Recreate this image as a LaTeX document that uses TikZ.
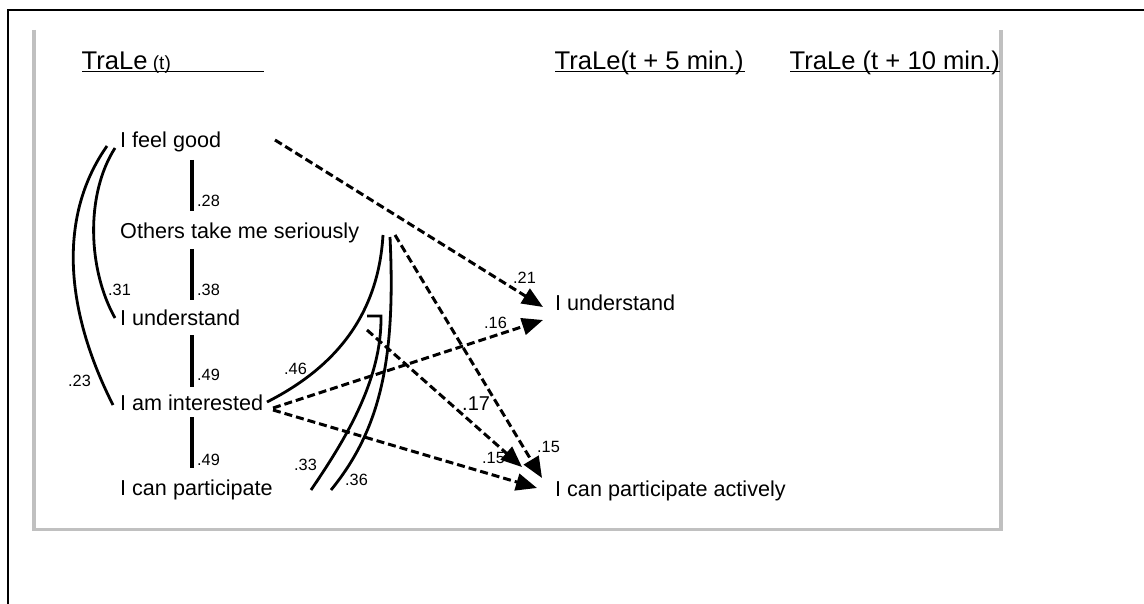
\documentclass[tikz,border=0pt]{standalone}
\usepackage{fontspec}
\setmainfont{Liberation Sans}
\usetikzlibrary{arrows.meta}
\definecolor{boxgray}{RGB}{192,192,192}
\tikzset{
  txt/.style={anchor=base west, inner sep=0pt, font=\fontsize{21.6}{25}\selectfont},
  lbl/.style={anchor=base west, inner sep=0pt, font=\fontsize{16.3}{19}\selectfont},
  ttl/.style={anchor=base west, inner sep=0pt, font=\fontsize{25.6}{30}\selectfont},
  bar/.style={line width=4pt},
  corr/.style={line width=2.8pt},
  path/.style={line width=3pt, dash pattern=on 8pt off 4pt, -{Triangle[length=21pt,width=17pt]}},
}
\begin{document}
\begin{tikzpicture}[x=1pt,y=-1pt]
\useasboundingbox (0,0) rectangle (1144,604);
% frames
\draw[line width=2pt] (8,604) -- (8,10) -- (1144,10);
\draw[boxgray, line width=3.7pt] (34,30) -- (34,529.5) -- (1001.3,529.5) -- (1001.3,30);
% titles
\node[ttl] (t0) at (81.5,69.3) {TraLe\fontsize{19}{22}\selectfont{} (t)};
\node[ttl] (t5) at (554.5,69.3) {TraLe(t + 5 min.)};
\node[ttl] (t10) at (789.5,69.3) {TraLe (t + 10 min.)};
\draw[line width=1.3pt] (82,71.5) -- (264,71.5);
\draw[line width=1.3pt] (555,71.5) -- (745,71.5);
\draw[line width=1.3pt] (790,71.5) -- (1000,71.5);
% left column
\node[txt] (feel) at (120,147.3) {I feel good};
\node[txt] (oth) at (120,238.3) {Others take me seriously};
\node[txt] (und) at (120,325) {I understand};
\node[txt] (int) at (120,410) {I am interested};
\node[txt] (part) at (120,495) {I can participate};
% right column
\node[txt] (und5) at (555,311) {I understand};
\node[txt] (act5) at (555,496) {I can participate actively};
% bars
\coordinate (b1a) at (191.7,160); \coordinate (b1b) at (191.7,210.7);
\coordinate (b2a) at (191.7,249); \coordinate (b2b) at (191.7,300);
\coordinate (b3a) at (191.7,335); \coordinate (b3b) at (191.7,386.7);
\coordinate (b4a) at (191.7,417); \coordinate (b4b) at (191.7,468);
\draw[bar] (b1a) -- (b1b);
\draw[bar] (b2a) -- (b2b);
\draw[bar] (b3a) -- (b3b);
\draw[bar] (b4a) -- (b4b);
% left curves
\coordinate (feelL1) at (115,148); \coordinate (undL) at (115,318);
\coordinate (feelL2) at (107,146); \coordinate (intL) at (113,405);
\draw[corr] (feelL1) .. controls (85,195) and (88,270) .. (undL);
\draw[corr] (feelL2) .. controls (62,210) and (60,300) .. (intL);
% right solid curves
\coordinate (intR) at (267,402); \coordinate (othR1) at (383,235);
\coordinate (partR1) at (311,490); \coordinate (hookC) at (381,316); \coordinate (hookE) at (367,316);
\coordinate (partR2) at (331,490); \coordinate (othR2) at (390,237);
\draw[corr] (intR) .. controls (330,370) and (378,320) .. (othR1);
\draw[corr] (partR1) .. controls (345,440) and (382,380) .. (hookC) -- (hookE);
\draw[corr] (partR2) .. controls (380,430) and (396,360) .. (othR2);
% dashed paths
\coordinate (feelR) at (275,140);
\coordinate (intR2) at (273,408);
\coordinate (intR3) at (273,410);
\coordinate (hookS) at (367,330);
\coordinate (othR3) at (395,235);
\coordinate (und5a) at (543,307);
\coordinate (und5b) at (543,320);
\coordinate (act5a) at (522,467);
\coordinate (act5b) at (542,478);
\coordinate (act5c) at (537,488);
\draw[path] (feelR) -- (und5a);
\draw[path] (intR2) -- (und5b);
\draw[path] (intR3) -- (act5c);
\draw[path] (hookS) -- (act5a);
\draw[path] (othR3) -- (act5b);
% labels
\node[lbl] (l28) at (197,207) {.28};
\node[lbl] (l38) at (197,296) {.38};
\node[lbl] (l49a) at (197,380.7) {.49};
\node[lbl] (l49b) at (197,465) {.49};
\node[lbl] (l31) at (108,295) {.31};
\node[lbl] (l23) at (68,386.7) {.23};
\node[lbl] (l46) at (284,374) {.46};
\node[lbl] (l33) at (294,470) {.33};
\node[lbl] (l36) at (345,485) {.36};
\node[lbl] (l21) at (513,283.3) {.21};
\node[lbl] (l16) at (484,328) {.16};
\node[anchor=base west, inner sep=0pt, font=\fontsize{20}{23}\selectfont] (l17) at (462,410) {.17};
\node[lbl] (l15a) at (482,463) {.15};
\node[lbl] (l15b) at (537,452.7) {.15};
\end{tikzpicture}
\end{document}
